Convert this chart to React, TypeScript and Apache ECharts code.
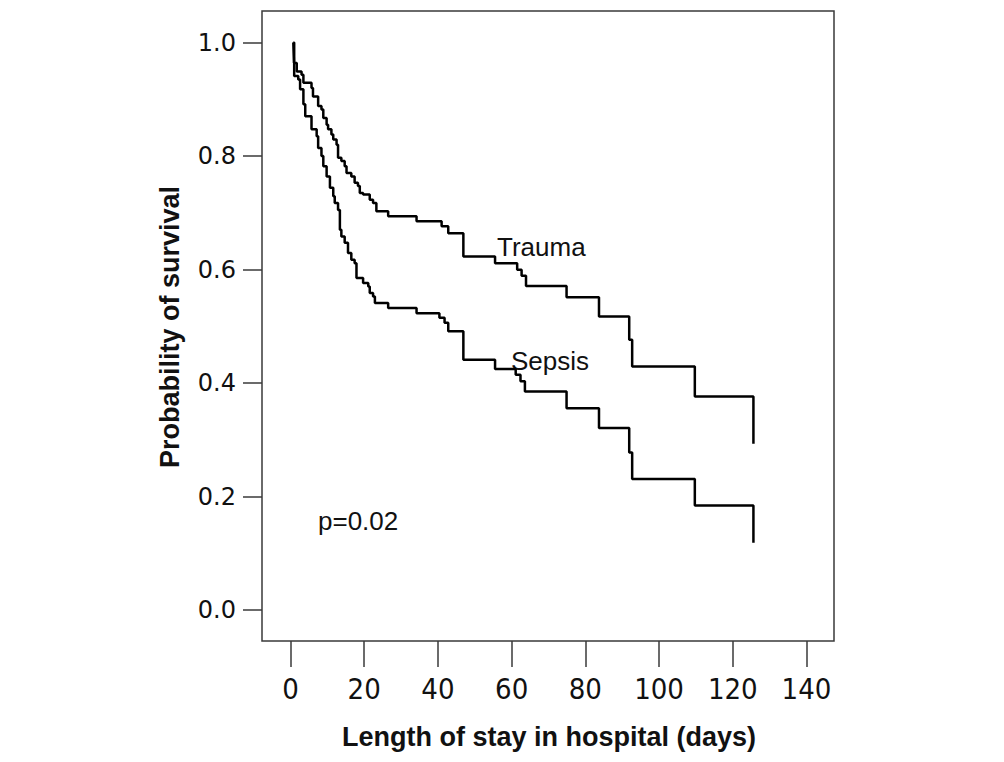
import React, { useEffect, useRef } from "react";
import * as echarts from "echarts";

// Kaplan-Meier steps: day at which the curve drops, survival after the drop
const traumaDays = [0.76, 0.95, 1.7, 3.0, 3.5, 5.7, 6.1, 7.5, 8.4, 8.9, 9.8, 10.2, 11.1, 11.6, 12.5, 12.9, 13.8, 14.7, 15.2, 16.5, 17.4, 18.3, 18.8, 19.7, 21.5, 22.4, 23.3, 26.5, 34.2, 41.0, 42.8, 46.9, 55.5, 61.5, 62.7, 63.9, 74.9, 83.7, 91.9, 92.7, 109.7, 125.6];
const traumaSurv = [1.0, 0.964, 0.949, 0.943, 0.929, 0.92, 0.905, 0.888, 0.882, 0.867, 0.855, 0.847, 0.838, 0.829, 0.82, 0.797, 0.791, 0.782, 0.77, 0.764, 0.753, 0.747, 0.735, 0.732, 0.723, 0.717, 0.7025, 0.694, 0.685, 0.676, 0.664, 0.623, 0.611, 0.5996, 0.589, 0.571, 0.551, 0.517, 0.476, 0.429, 0.376, 0.293];

const sepsisDays = [0.76, 1.0, 2.1, 2.6, 3.5, 4.0, 5.7, 7.1, 7.5, 8.4, 8.9, 9.8, 10.7, 11.6, 12.0, 12.9, 13.4, 13.8, 14.7, 15.6, 16.5, 17.4, 17.9, 19.7, 21.1, 21.5, 22.4, 22.9, 26.5, 34.2, 40.4, 41.8, 42.8, 46.9, 55.5, 61.1, 62.4, 63.6, 74.9, 83.7, 91.9, 92.7, 109.7, 125.6];
const sepsisSurv = [1.0, 0.941, 0.935, 0.9175, 0.891, 0.87, 0.847, 0.835, 0.814, 0.8, 0.782, 0.764, 0.744, 0.729, 0.717, 0.705, 0.67, 0.658, 0.647, 0.629, 0.617, 0.611, 0.585, 0.576, 0.57, 0.5585, 0.5526, 0.541, 0.532, 0.523, 0.515, 0.506, 0.491, 0.441, 0.4245, 0.4145, 0.403, 0.385, 0.3557, 0.3205, 0.2774, 0.231, 0.184, 0.1187];

const xMin = 0;
const xMax = 140;
const xStep = 20;
const yMin = 0;
const yMax = 1;
const yStep = 0.2;

const xTitle = "Length of stay in hospital (days)";
const yTitle = "Probability of survival";
const seriesLabels = ["Trauma", "Sepsis"];
const pText = "p=0.02";

const pairs = (xs: number[], ys: number[]) => xs.map((x, i) => [x, ys[i]]);

export default function App() {
  const ref = useRef<HTMLDivElement>(null);
  useEffect(() => {
    if (!ref.current) return;
    const chart = echarts.init(ref.current, undefined, { renderer: "svg" });
    const axisColor = "#3a3a3a";
    chart.setOption({
      animation: false,
      backgroundColor: "#ffffff",
      grid: { left: 290.5, right: 197.5, top: 42.5, bottom: 152, containLabel: false },
      xAxis: {
        type: "value",
        min: xMin,
        max: xMax,
        interval: xStep,
        offset: 31,
        axisLine: { show: false, onZero: false },
        axisTick: { show: true, length: 26, lineStyle: { color: axisColor, width: 1.5 } },
        axisLabel: {
          margin: 33,
          fontSize: 29,
          fontFamily: "'Liberation Sans Narrow', 'DejaVu Sans Condensed', sans-serif",
          color: "#111",
        },
        splitLine: { show: false },
      },
      yAxis: {
        type: "value",
        min: yMin,
        max: yMax,
        interval: yStep,
        offset: 28.5,
        axisLine: { show: false, onZero: false },
        axisTick: { show: true, length: 19, lineStyle: { color: axisColor, width: 1.5 } },
        axisLabel: {
          margin: 26,
          fontSize: 24,
          fontFamily: "'DejaVu Sans', sans-serif",
          color: "#111",
          formatter: (v: number) => v.toFixed(1),
        },
        splitLine: { show: false },
      },
      series: [
        {
          type: "line",
          name: seriesLabels[0],
          step: "end",
          showSymbol: false,
          data: pairs(traumaDays, traumaSurv),
          lineStyle: { color: "#000", width: 2.5 },
        },
        {
          type: "line",
          name: seriesLabels[1],
          step: "end",
          showSymbol: false,
          data: pairs(sepsisDays, sepsisSurv),
          lineStyle: { color: "#000", width: 2.5 },
        },
      ],
      graphic: [
        {
          type: "rect",
          shape: { x: 262, y: 11, width: 572, height: 630 },
          style: { fill: "none", stroke: axisColor, lineWidth: 1.5 },
          silent: true,
        },
        {
          type: "text",
          x: 497,
          y: 247,
          style: { text: seriesLabels[0], font: "26px 'Liberation Sans', Arial, sans-serif", fill: "#111", textAlign: "left", textVerticalAlign: "middle" },
        },
        {
          type: "text",
          x: 511,
          y: 361,
          style: { text: seriesLabels[1], font: "26px 'Liberation Sans', Arial, sans-serif", fill: "#111", textAlign: "left", textVerticalAlign: "middle" },
        },
        {
          type: "text",
          x: 318,
          y: 521,
          style: { text: pText, font: "26px 'Liberation Sans', Arial, sans-serif", fill: "#111", textAlign: "left", textVerticalAlign: "middle" },
        },
        {
          type: "text",
          x: 549,
          y: 737,
          style: { text: xTitle, font: "bold 27px 'Liberation Sans', Arial, sans-serif", fill: "#111", textAlign: "center", textVerticalAlign: "middle" },
        },
        {
          type: "text",
          x: 170,
          y: 327,
          rotation: Math.PI / 2,
          style: { text: yTitle, font: "bold 27px 'Liberation Sans', Arial, sans-serif", fill: "#111", textAlign: "center", textVerticalAlign: "middle" },
        },
      ],
    });
    return () => chart.dispose();
  }, []);
  return (
    <div
      ref={ref}
      style={{ position: "fixed", left: 0, top: 0, width: 1004, height: 762, background: "#fff" }}
    />
  );
}
